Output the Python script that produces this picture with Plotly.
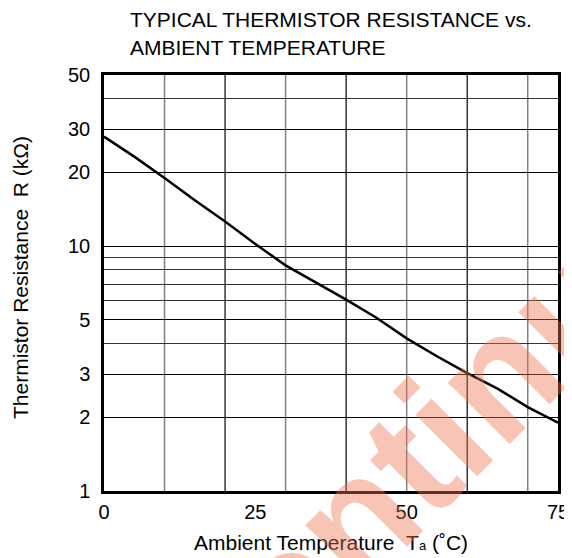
import plotly.graph_objects as go

# Data
temp_c = [0, 5, 10, 15, 20, 25, 30, 35, 40, 45, 50, 55, 60, 65, 70, 75]
resistance_kohm = [28.0, 23.2, 19.0, 15.4, 12.6, 10.2, 8.35, 7.1, 6.05, 5.1, 4.2, 3.55, 3.03, 2.62, 2.2, 1.9]

x_tick_vals = [0, 25, 50, 75]
y_tick_vals = [1, 2, 3, 5, 10, 20, 30, 50]
y_minor_grid = [4, 6, 7, 8, 9, 40]
x_grid_black = [20, 40, 60]
x_grid_grey = [10, 30, 50, 70]

FONT = "Liberation Sans, Arial, sans-serif"

# plot area in page pixels (reference): left 104, right 558, top 75, bottom 491
PL, PR, PT, PB = 104, 558, 75, 491
PW, PH = PR - PL, PB - PT


def px(xp):
    return (xp - PL) / PW


def py(yp):
    return (PB - yp) / PH


fig = go.Figure()
fig.add_trace(go.Scatter(x=temp_c, y=resistance_kohm, mode="lines",
                         line=dict(color="black", width=2.5),
                         hoverinfo="skip", showlegend=False))

shapes = []
for xv in x_grid_grey:
    shapes.append(dict(type="line", xref="x", yref="paper", x0=xv, x1=xv, y0=0, y1=1,
                       line=dict(color="#808080", width=1.5), layer="below"))
for xv in x_grid_black:
    shapes.append(dict(type="line", xref="x", yref="paper", x0=xv, x1=xv, y0=0, y1=1,
                       line=dict(color="black", width=1.2), layer="below"))

# page body has an 8px margin, so the figure is offset by 8px
OFF = 8
fig.update_layout(
    width=572, height=558,
    margin=dict(l=PL - OFF, r=572 - (PR - OFF), t=PT - OFF, b=558 - (PB - OFF), autoexpand=False),
    paper_bgcolor="white", plot_bgcolor="white",
    font=dict(family=FONT, size=20, color="black"),
    shapes=shapes,
    xaxis=dict(range=[0, 75], tickvals=x_tick_vals, ticks="", showgrid=False,
               showline=True, linecolor="black", linewidth=2.5, mirror=True,
               zeroline=False, ticklabelstandoff=1, automargin=False,
               tickfont=dict(size=20)),
    yaxis=dict(type="log", range=[0, 1.69897], tickvals=y_tick_vals,
               ticktext=[str(v) for v in y_tick_vals], ticks="",
               showgrid=True, gridcolor="black", gridwidth=1.2,
               minor=dict(tickvals=y_minor_grid, showgrid=True, gridcolor="#333333", gridwidth=1.2, ticks=""),
               showline=True, linecolor="black", linewidth=2.5, mirror=True,
               zeroline=False, ticklabelstandoff=7, automargin=False,
               tickfont=dict(size=20)),
    annotations=[
        dict(text="TYPICAL THERMISTOR RESISTANCE vs.", xref="paper", yref="paper",
             x=px(128), y=py(19), xanchor="left", yanchor="middle",
             showarrow=False, font=dict(size=21)),
        dict(text="AMBIENT TEMPERATURE", xref="paper", yref="paper",
             x=px(128), y=py(47), xanchor="left", yanchor="middle",
             showarrow=False, font=dict(size=21)),
        dict(text="Ambient Temperature\u00a0\u00a0T<span style='font-size:13px'>a</span> (˚C)",
             xref="paper", yref="paper", x=0.5, y=py(542),
             xanchor="center", yanchor="middle", showarrow=False, font=dict(size=21)),
        dict(text="Thermistor Resistance\u00a0\u00a0R (kΩ)", xref="paper", yref="paper",
             x=px(20), y=py(278), textangle=-90,
             xanchor="center", yanchor="middle", showarrow=False, font=dict(size=21)),
        dict(text="<b>Discontinued</b>", xref="paper", yref="paper",
             x=px(370), y=py(503), textangle=-45,
             xanchor="center", yanchor="middle", showarrow=False,
             font=dict(size=165, color="rgba(238,114,81,0.42)", family="Liberation Sans, Arial, sans-serif")),
    ],
)

fig.write_html("out.html")
